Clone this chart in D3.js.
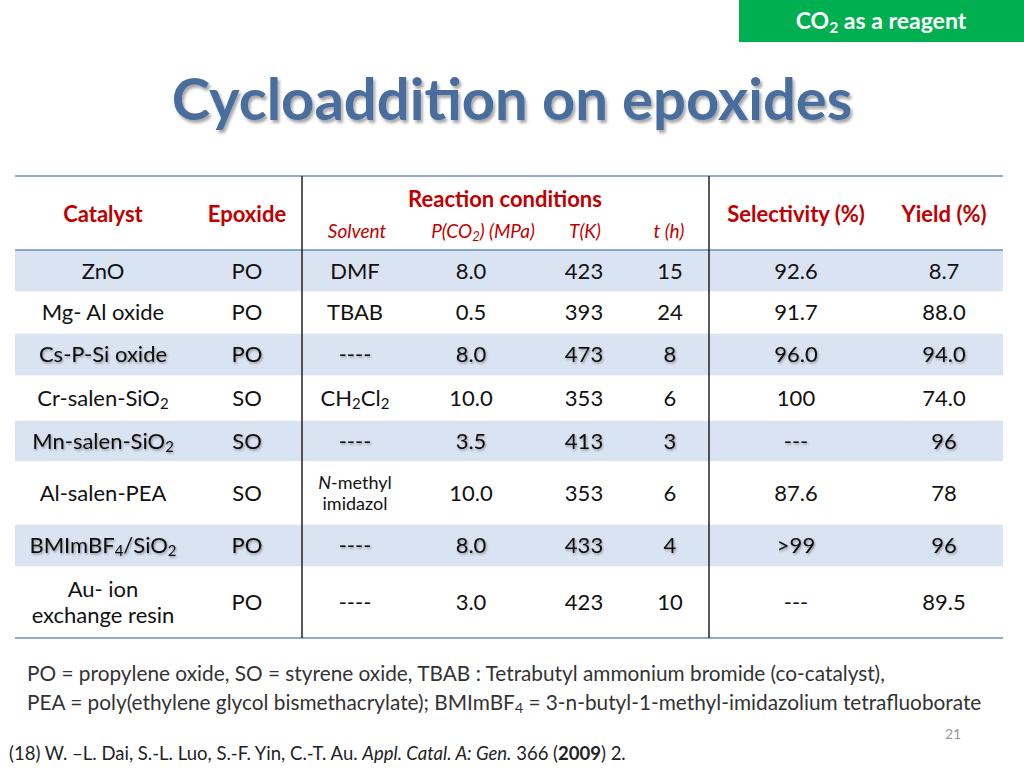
<!DOCTYPE html>
<html><head><meta charset="utf-8">
<script src="https://cdn.jsdelivr.net/npm/d3@7/dist/d3.min.js"></script>
<style>body{margin:0;background:#fff}svg{display:block;font-family:Lato,"Open Sans",sans-serif}</style>
</head><body><svg id="c" width="1024" height="768"></svg>
<script>
const columns = ["Catalyst","Epoxide","Solvent","P","T","t","Selectivity","Yield"];
const headerMain = ["Catalyst","Epoxide","","","","","Selectivity (%)","Yield (%)"];
const headerSub = ["Solvent","P(CO_2) (MPa)","T(K)","t (h)"];
const catalysts = ["ZnO","Mg- Al oxide","Cs-P-Si oxide","Cr-salen-SiO_2","Mn-salen-SiO_2","Al-salen-PEA","BMImBF_4/SiO_2","Au- ion|exchange resin"];
const epoxides = ["PO","PO","PO","SO","SO","SO","PO","PO"];
const solvents = ["DMF","TBAB","----","CH_2Cl_2","----","*N*-methyl|imidazol","----","----"];
const pressures = ["8.0","0.5","8.0","10.0","3.5","10.0","8.0","3.0"];
const temps = ["423","393","473","353","413","353","433","423"];
const times = ["15","24","8","6","3","6","4","10"];
const selectivity = ["92.6","91.7","96.0","100","---","87.6",">99","---"];
const yields = ["8.7","88.0","94.0","74.0","96","78","96","89.5"];
const rowHeights = [42,41,43,44,42,62,43,71];
const shaded = [true,false,true,false,true,false,true,false];
const emphasized = [false,false,true,false,true,false,true,false];

const svg = d3.select("#c");
const colX = d3.scaleOrdinal().domain(columns).range([103,247,355,471,584,670,796,944]);
const tableTop=176, headerBottom=250, L=15, R=1003;
const rowY = []; let acc=headerBottom; rowHeights.forEach(h=>{rowY.push(acc);acc+=h;});
const tableBottom = acc;

function addRich(sel, s, size){
  const re=/(_\d+|\*[^*]+\*|[^_*]+)/g; let m;
  while((m=re.exec(s))){
    const t=m[0];
    if(t[0]==="_") sel.append("tspan").attr("font-size",size*0.68).attr("baseline-shift","-22%").text(t.slice(1));
    else if(t[0]==="*") sel.append("tspan").attr("font-style","italic").text(t.slice(1,-1));
    else sel.append("tspan").text(t);
  }
}
function richText(g,x,y,s,size,opts={}){
  const lines=s.split("|"); const lh=size*1.2;
  lines.forEach((ln,i)=>{
    const t=g.append("text").attr("x",x).attr("y",y+(i-(lines.length-1)/2)*lh+size*0.35).attr("text-anchor",opts.anchor||"middle")
      .attr("font-size",size).attr("fill",opts.fill||"#111");
    if(opts.weight) t.attr("font-weight",opts.weight);
    if(opts.italic) t.attr("font-style","italic");
    if(opts.filter) t.attr("filter",opts.filter);
    addRich(t,ln,size);
  });
}
const defs=svg.append("defs");
const f=defs.append("filter").attr("id","sh").attr("x","-10%").attr("y","-30%").attr("width","130%").attr("height","170%");
f.append("feDropShadow").attr("dx",1).attr("dy",1.5).attr("stdDeviation",0.8).attr("flood-color","#000").attr("flood-opacity",0.35);
const f2=defs.append("filter").attr("id","tsh").attr("x","-5%").attr("y","-20%").attr("width","115%").attr("height","150%");
f2.append("feDropShadow").attr("dx",2).attr("dy",3).attr("stdDeviation",1.5).attr("flood-color","#000").attr("flood-opacity",0.35);

svg.append("rect").attr("x",739).attr("y",0).attr("width",285).attr("height",42).attr("fill","#00b050");
richText(svg,881,21,"CO_2 as a reagent",23,{fill:"#fff",weight:"bold"});
svg.append("text").attr("x",512).attr("y",120).attr("text-anchor","middle")
  .attr("font-size",58).attr("font-weight","bold").attr("fill","#4a6d9c").attr("filter","url(#tsh)").text("Cycloaddition on epoxides");

svg.selectAll("rect.row").data(rowHeights).join("rect").attr("class","row").attr("x",L).attr("width",R-L)
  .attr("y",(d,i)=>rowY[i]).attr("height",d=>d).attr("fill",(d,i)=>shaded[i]?"#dae3f1":"#fff");
const lineC="#6a8fc4";
[tableTop,headerBottom,tableBottom].forEach(y=>svg.append("line").attr("x1",L).attr("x2",R).attr("y1",y).attr("y2",y).attr("stroke",lineC).attr("stroke-width",1.5));
rowY.slice(1).forEach(y=>svg.append("line").attr("x1",L).attr("x2",R).attr("y1",y).attr("y2",y).attr("stroke","#fff").attr("stroke-width",1.5));
[302,709].forEach(x=>svg.append("line").attr("x1",x).attr("x2",x).attr("y1",tableTop).attr("y2",tableBottom).attr("stroke","#222").attr("stroke-width",1.5));

const red="#c00000";
headerMain.forEach((h,i)=>{ if(h) richText(svg,colX(columns[i]),214,h,22,{fill:red,weight:"bold"}); });
richText(svg,505,199,"Reaction conditions",22,{fill:red,weight:"bold"});
const subX=[357,483,585,669];
headerSub.forEach((h,i)=>richText(svg,subX[i],231,h,19,{fill:red,italic:true}));

const table = catalysts.map((c,i)=>[c,epoxides[i],solvents[i],pressures[i],temps[i],times[i],selectivity[i],yields[i]]);
table.forEach((row,i)=>{
  const cy=rowY[i]+rowHeights[i]/2;
  row.forEach((v,j)=>{
    const size = (j===2 && v.includes("|")) ? 18 : 22;
    richText(svg,colX(columns[j]),cy,v,size,{fill:"#111",filter:emphasized[i]?"url(#sh)":null});
  });
});

const notes=["PO = propylene oxide, SO = styrene oxide, TBAB : Tetrabutyl ammonium bromide (co-catalyst),",
 "PEA = poly(ethylene glycol bismethacrylate); BMImBF_4 = 3-n-butyl-1-methyl-imidazolium tetrafluoborate"];
notes.forEach((n,i)=>richText(svg,27,674+i*29,n,20.8,{anchor:"start",fill:"#333"}));
svg.append("text").attr("x",953).attr("y",739).attr("text-anchor","middle").attr("font-size",14).attr("fill","#999").text("21");
const ref=svg.append("text").attr("x",9).attr("y",760).attr("font-size",18.5).attr("fill","#222");
ref.append("tspan").text("(18)  W. \u2013L. Dai, S.-L. Luo, S.-F. Yin, C.-T.  Au. ");
ref.append("tspan").attr("font-style","italic").text("Appl. Catal. A: Gen.");
ref.append("tspan").text(" 366 (");
ref.append("tspan").attr("font-weight","bold").text("2009");
ref.append("tspan").text(") 2.");
</script></body></html>
